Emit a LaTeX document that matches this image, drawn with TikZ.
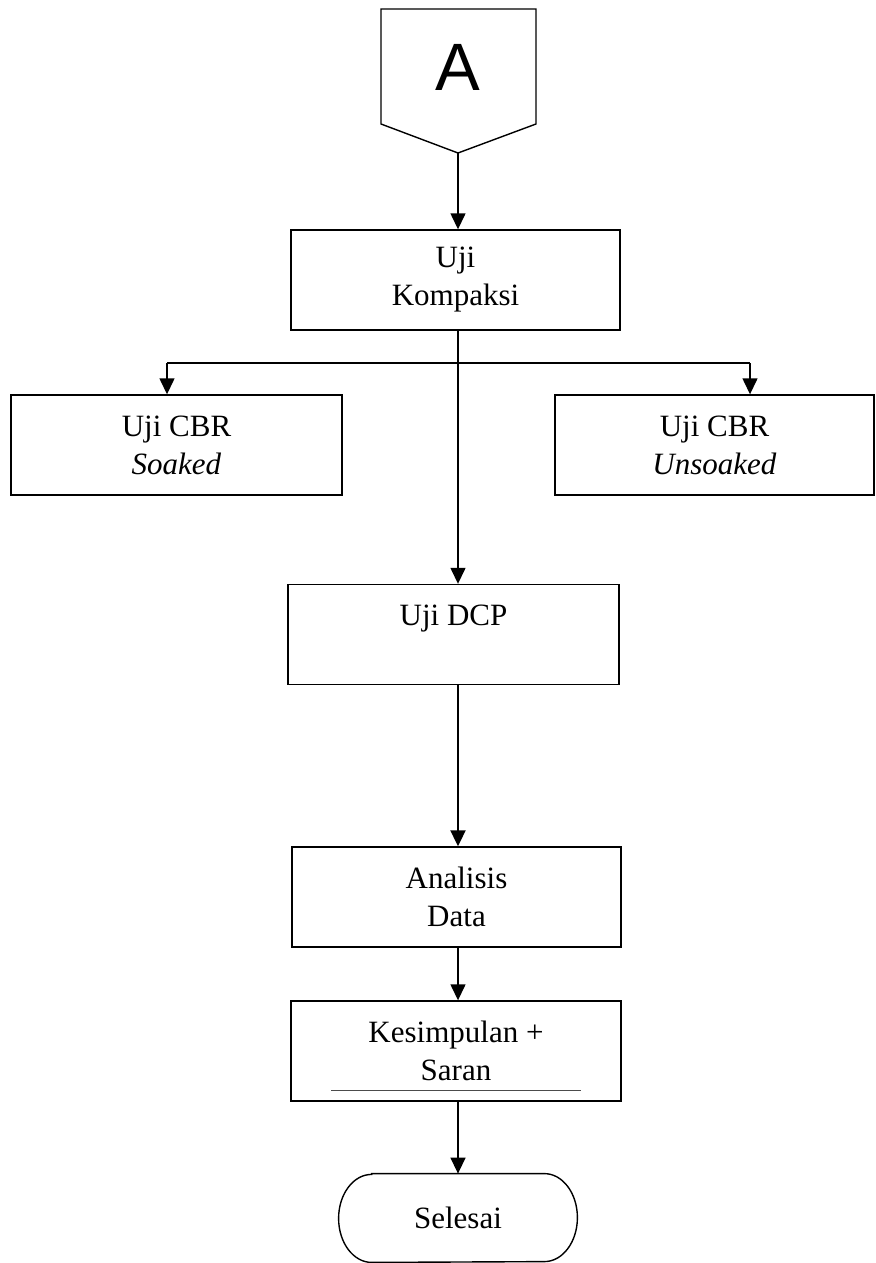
\documentclass[tikz,border=0pt]{standalone}
\usepackage{fontspec}
\setmainfont{Liberation Serif}
\newfontfamily\connfont{Liberation Sans}
\usetikzlibrary{arrows.meta}
\begin{document}
\begin{tikzpicture}[x=0.5pt, y=-0.5pt,
    every node/.style={font=\fontsize{15.5}{19}\selectfont, align=center, inner sep=0pt},
    box/.style={draw, line width=0.7pt, minimum height=50pt},
    arr/.style={-{Triangle[length=8pt,width=7.5pt]}, line width=0.7pt}]
    \useasboundingbox (0,0) rectangle (875,1263);
    \draw[line width=0.7pt] (381,9) -- (536,9) -- (536,124) -- (458,153) -- (381,124) -- cycle;
    \node[font=\connfont\fontsize{33.5}{40}\selectfont] (A) at (458,67) {A};
    \coordinate (aout) at (458,153);
    \node[box, minimum width=164.5pt] (kompaksi) at (455.5,280) {Uji\\Kompaksi};
    \node[box, minimum width=165.5pt] (soaked) at (176.5,445) {Uji CBR\\\textit{Soaked}};
    \node[box, minimum width=159.5pt] (unsoaked) at (714.5,445) {Uji CBR\\\textit{Unsoaked}};
    \node[box, minimum width=165.5pt] (dcp) at (453.5,634.5) {Uji DCP\\\mbox{}};
    \node[box, minimum width=164.5pt] (analisis) at (456.5,897) {Analisis\\Data};
    \node[box, minimum width=165pt] (kesimpulan) at (456,1051) {Kesimpulan +\\Saran};
    \draw[black!70, line width=0.4pt] (331,1090) -- (581,1090);
    \node[minimum width=119pt, minimum height=44pt] (selesai) at (458,1218) {Selesai};
    \draw[line width=0.7pt] ([xshift=16.5pt]selesai.north west) -- ([xshift=-16.5pt]selesai.north east)
        arc[start angle=90, end angle=-90, x radius=16.5pt, y radius=22pt]
        -- ([xshift=16.5pt]selesai.south west)
        arc[start angle=270, end angle=90, x radius=16.5pt, y radius=22pt] -- cycle;
    \coordinate (bl) at (167,363);
    \coordinate (br) at (750,363);
    \draw[arr] (aout) -- (aout |- kompaksi.north);
    \draw[arr] (aout |- kompaksi.south) -- (aout |- dcp.north);
    \draw[line width=0.7pt] (bl) -- (br);
    \draw[arr] (bl) -- (bl |- soaked.north);
    \draw[arr] (br) -- (br |- unsoaked.north);
    \draw[arr, line width=1pt] (aout |- dcp.south) -- (aout |- analisis.north);
    \draw[arr] (aout |- analisis.south) -- (aout |- kesimpulan.north);
    \draw[arr] (aout |- kesimpulan.south) -- (selesai.north);
\end{tikzpicture}
\end{document}
